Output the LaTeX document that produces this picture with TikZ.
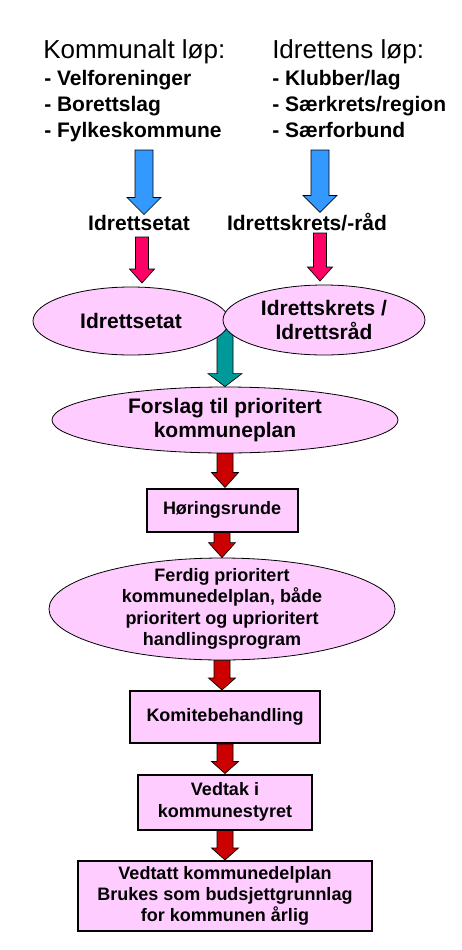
\documentclass[tikz,border=0pt]{standalone}
\usepackage{fontspec}
\setmainfont{Liberation Sans}
\usetikzlibrary{shapes.geometric,calc}

\definecolor{ovalpink}{RGB}{255,204,255}
\definecolor{bluearr}{RGB}{51,153,255}
\definecolor{pinkarr}{RGB}{255,0,102}
\definecolor{tealarr}{RGB}{0,153,153}
\definecolor{redarr}{RGB}{204,0,0}

\newdimen\px \px=0.75pt

% block arrow: colour, top, tip, half shaft, half head, head length
\newcommand{\blockarrow}[6]{%
  \filldraw[fill=#1, draw=black, line width=0.5pt]
    ($(#2)+(-#4,0)$) -- ($(#2 |- #3)+(-#4,-#6)$) -- ($(#2 |- #3)+(-#5,-#6)$)
    -- (#2 |- #3) -- ($(#2 |- #3)+(#5,-#6)$) -- ($(#2 |- #3)+(#4,-#6)$)
    -- ($(#2)+(#4,0)$) -- cycle;}

\tikzset{
  headtext/.style={inner sep=0pt, font=\fontsize{19.5}{22}\selectfont},
  listtext/.style={inner sep=0pt, align=left, font=\bfseries\fontsize{15.75}{19.5}\selectfont},
  labeltext/.style={inner sep=0pt, font=\bfseries\fontsize{15.75}{18}\selectfont},
  oval/.style={ellipse, draw, fill=ovalpink, line width=0.6pt, inner sep=0pt},
  ovaltext/.style={inner sep=0pt, align=center, font=\bfseries\fontsize{15.75}{18}\selectfont},
  smalltext/.style={inner sep=0pt, align=center, font=\bfseries\fontsize{13.5}{16}\selectfont},
  stepbox/.style={rectangle, draw, fill=ovalpink, line width=1.5pt, inner sep=0pt, align=center,
    font=\bfseries\fontsize{13.5}{16}\selectfont},
}

\begin{document}
\begin{tikzpicture}[x=0.75pt, y=-0.75pt]
  \useasboundingbox (0,0) rectangle (461,950);

  % the two starting lists
  \node[headtext, anchor=base west] (komhead) at (43,58) {Kommunalt løp:};
  \node[listtext, anchor=base west] (komlist) at (44,137) {- Velforeninger\\- Borettslag\\- Fylkeskommune};
  \node[headtext, anchor=base west] (idrhead) at (272,58) {Idrettens løp:};
  \node[listtext, anchor=base west] (idrlist) at (272,137) {- Klubber/lag\\- Særkrets/region\\- Særforbund};

  \node[labeltext, anchor=base] (setatlbl) at (139,230) {Idrettsetat};
  \node[labeltext, anchor=base] (idrlbl) at (307,230) {Idrettskrets/-råd};

  \coordinate (komout) at (144,150);
  \coordinate (idrout) at (320,150);
  \blockarrow{bluearr}{komout}{setatlbl.north}{9}{17}{17}
  \blockarrow{bluearr}{idrout}{idrlbl.north}{9}{17}{17}

  \coordinate (setatout) at (142,237);
  \coordinate (setattip) at (142,283);
  \coordinate (idrin) at (320,233);
  \coordinate (idrtip) at (320,281);
  \blockarrow{pinkarr}{setatout}{setattip}{6.5}{12.5}{14}
  \blockarrow{pinkarr}{idrin}{idrtip}{6.5}{12.5}{14}

  \node[oval, minimum width=346\px, minimum height=66\px] (forslag) at (225,420) {};
  \node[ovaltext] (forslagtxt) at (forslag) {Forslag til prioritert\\kommuneplan};

  % joint arrow behind the two ovals
  \coordinate (jointout) at (225,325);
  \blockarrow{tealarr}{jointout}{forslag.north}{8}{17}{13}

  \node[oval, minimum width=196\px, minimum height=68\px] (setat) at (131,321) {};
  \node[ovaltext] (setattxt) at (setat) {Idrettsetat};
  \node[oval, minimum width=202\px, minimum height=70\px] (idr) at (324,320) {};
  \node[ovaltext] (idrtxt) at (idr) {Idrettskrets /\\Idrettsråd};

  \node[stepbox, minimum width=151\px, minimum height=43\px] (horing) at (222,510) {Høringsrunde};
  \node[oval, minimum width=346\px, minimum height=102\px] (ferdig) at (222,609) {};
  \node[smalltext] (ferdigtxt) at (ferdig) {Ferdig prioritert\\kommunedelplan, både\\prioritert og uprioritert\\handlingsprogram};
  \node[stepbox, minimum width=190\px, minimum height=52\px] (komite) at (225,717) {Komitebehandling};
  \node[stepbox, minimum width=174\px, minimum height=55\px] (vedtak) at (225,802) {Vedtak i\\kommunestyret};
  \node[stepbox, minimum width=294\px, minimum height=70\px] (vedtatt) at (225,896)
    {Vedtatt kommunedelplan\\Brukes som budsjettgrunnlag\\for kommunen årlig};

  \blockarrow{redarr}{forslag.south}{horing.north}{8}{13.5}{15}
  \blockarrow{redarr}{horing.south}{ferdig.north}{8}{13.5}{15}
  \blockarrow{redarr}{ferdig.south}{komite.north}{8}{13.5}{12}
  \blockarrow{redarr}{komite.south}{vedtak.north}{8}{13.5}{12}
  \blockarrow{redarr}{vedtak.south}{vedtatt.north}{8}{13.5}{12}
\end{tikzpicture}
\end{document}
